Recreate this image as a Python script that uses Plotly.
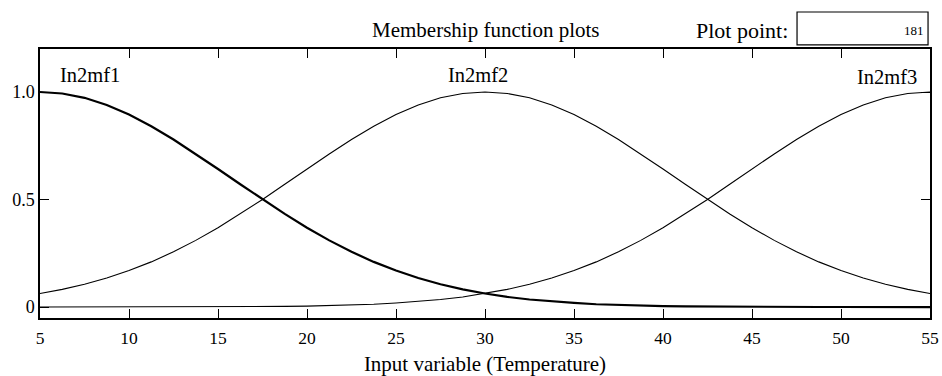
import plotly.graph_objects as go

x_vals = [5, 6.25, 7.5, 8.75, 10, 11.25, 12.5, 13.75, 15, 16.25, 17.5, 18.75, 20, 21.25, 22.5, 23.75,
          25, 26.25, 27.5, 28.75, 30, 31.25, 32.5, 33.75, 35, 36.25, 37.5, 38.75, 40, 41.25, 42.5, 43.75,
          45, 46.25, 47.5, 48.75, 50, 51.25, 52.5, 53.75, 55]
in2mf1 = [1.0, 0.993, 0.973, 0.940, 0.895, 0.841, 0.779, 0.712, 0.642, 0.571, 0.500, 0.433, 0.369, 0.310,
          0.257, 0.210, 0.170, 0.135, 0.106, 0.082, 0.063, 0.047, 0.035, 0.026, 0.019, 0.013, 0.009, 0.006,
          0.004, 0.003, 0.002, 0.001, 0.001, 0.0005, 0.0003, 0.0002, 0.0001, 0.0, 0.0, 0.0, 0.0]
in2mf2 = [0.063, 0.082, 0.106, 0.135, 0.170, 0.210, 0.257, 0.310, 0.369, 0.433, 0.500, 0.571, 0.642, 0.712,
          0.779, 0.841, 0.895, 0.940, 0.973, 0.993, 1.0, 0.993, 0.973, 0.940, 0.895, 0.841, 0.779, 0.712,
          0.642, 0.571, 0.500, 0.433, 0.369, 0.310, 0.257, 0.210, 0.170, 0.135, 0.106, 0.082, 0.063]
in2mf3 = [0.0, 0.0, 0.0, 0.0, 0.0001, 0.0002, 0.0003, 0.0005, 0.001, 0.001, 0.002, 0.003, 0.004, 0.006,
          0.009, 0.013, 0.019, 0.026, 0.035, 0.047, 0.063, 0.082, 0.106, 0.135, 0.170, 0.210, 0.257, 0.310,
          0.369, 0.433, 0.500, 0.571, 0.642, 0.712, 0.779, 0.841, 0.895, 0.940, 0.973, 0.993, 1.0]
mf_names = ["In2mf1", "In2mf2", "In2mf3"]
mf_label_x = [7.8, 29.6, 52.6]
mf_label_y = [1.079, 1.079, 1.07]
x_ticks = [5, 10, 15, 20, 25, 30, 35, 40, 45, 50, 55]
y_ticks = [0, 0.5, 1.0]
y_tick_text = ["0", "0.5", "1.0"]
plot_point = "181"

font_family = "Liberation Serif"

fig = go.Figure()
fig.add_trace(go.Scatter(x=x_vals, y=in2mf1, mode="lines", line=dict(color="black", width=2.2)))
fig.add_trace(go.Scatter(x=x_vals, y=in2mf2, mode="lines", line=dict(color="black", width=1.1)))
fig.add_trace(go.Scatter(x=x_vals, y=in2mf3, mode="lines", line=dict(color="black", width=1.1)))

for name, lx, ly in zip(mf_names, mf_label_x, mf_label_y):
    fig.add_annotation(x=lx, y=ly, text=name, showarrow=False,
                       font=dict(family=font_family, size=20.5, color="black"))

fig.add_annotation(xref="paper", yref="paper", x=0.5, y=1.07, text="Membership function plots",
                   showarrow=False, yanchor="middle", font=dict(family=font_family, size=21, color="black"))
fig.add_annotation(xref="paper", yref="paper", x=0.843, y=1.07, text="Plot point:",
                   showarrow=False, xanchor="right", yanchor="middle", font=dict(family=font_family, size=22, color="black"))
# Box for plot point value
fig.add_shape(type="rect", xref="paper", yref="paper", x0=0.8506, x1=0.9978, y0=1.015, y1=1.1375,
              line=dict(color="black", width=1.2), fillcolor="white")
fig.add_annotation(xref="paper", yref="paper", x=0.995, y=1.0706, text=plot_point,
                   showarrow=False, xanchor="right", yanchor="middle", font=dict(family=font_family, size=13, color="black"))

fig.update_layout(
    width=942, height=376,
    margin=dict(l=40, r=12, t=49, b=58, autoexpand=False),
    paper_bgcolor="white", plot_bgcolor="white",
    showlegend=False,
    font=dict(family=font_family, size=18, color="black"),
)
fig.update_xaxes(range=[5, 55], tickvals=x_ticks, ticks="inside", ticklen=9, tickwidth=1.2, tickcolor="black",
                 showline=True, linecolor="black", linewidth=1.5, mirror="ticks", showgrid=False, zeroline=False,
                 automargin=False, ticklabelstandoff=3,
                 title=dict(text="Input variable (Temperature)", standoff=12, font=dict(size=21)),
                 tickfont=dict(size=17.5))
fig.update_yaxes(range=[-0.051, 1.2], tickvals=y_ticks, ticktext=y_tick_text, ticks="inside", ticklen=9, tickwidth=1.2,
                 tickcolor="black", showline=True, linecolor="black", linewidth=1.5, mirror="ticks",
                 automargin=False,
                 showgrid=False, zeroline=False, tickfont=dict(size=18))

fig.write_html("out.html")
